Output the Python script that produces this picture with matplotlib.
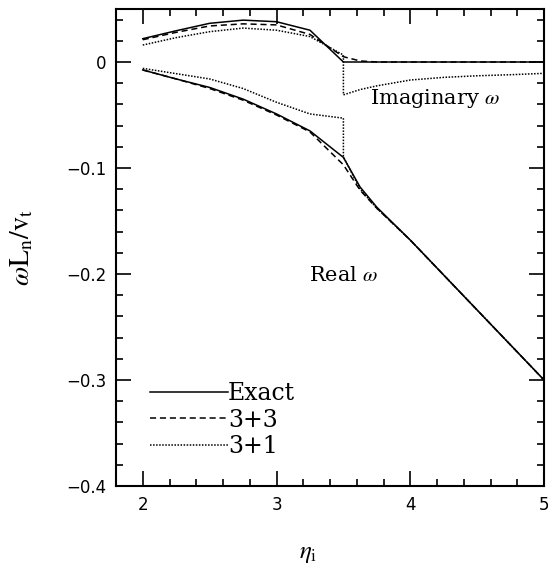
import matplotlib
matplotlib.use("Agg")
import matplotlib.pyplot as plt
from matplotlib.ticker import MultipleLocator

plt.rcParams['mathtext.fontset'] = 'stix'

# eta_i grid for the exact and 3+3 solutions
eta = [2.0, 2.25, 2.5, 2.75, 3.0, 3.25, 3.5, 3.625, 3.75, 4.0, 4.25, 4.5, 4.75, 5.0]
exact_im = [0.022, 0.0295, 0.0365, 0.0395, 0.038, 0.0300, 0.0, 0.0, 0.0, 0.0, 0.0, 0.0, 0.0, 0.0]
exact_re = [-0.0075, -0.016, -0.024, -0.035, -0.049, -0.065, -0.090, -0.118, -0.137,
            -0.168, -0.201, -0.234, -0.267, -0.300]
m33_im = [0.021, 0.028, 0.034, 0.036, 0.035, 0.026, 0.005, 0.001, 0.0, 0.0, 0.0, 0.0, 0.0, 0.0]
m33_re = [-0.0075, -0.016, -0.025, -0.036, -0.050, -0.066, -0.097, -0.121, -0.138,
          -0.168, -0.201, -0.234, -0.267, -0.300]

# 3+1 jumps to another root at eta_i = 3.5
eta31 = [2.0, 2.25, 2.5, 2.75, 3.0, 3.25, 3.5, 3.5, 3.625, 3.75, 4.0, 4.25, 4.5, 4.75, 5.0]
m31_im = [0.016, 0.023, 0.0286, 0.032, 0.030, 0.024, 0.0066, -0.031, -0.026, -0.0225,
          -0.017, -0.0145, -0.013, -0.012, -0.0107]
m31_re = [-0.006, -0.011, -0.016, -0.025, -0.038, -0.049, -0.053, -0.0895, -0.120, -0.138,
          -0.168, -0.201, -0.234, -0.267, -0.300]

fig = plt.figure(figsize=(5.57, 5.7), dpi=100)
ax = fig.add_axes([0.2083, 0.1474, 0.7684, 0.8368])

lw = 1.1
l1, = ax.plot(eta, exact_im, 'k-', lw=lw)
ax.plot(eta, exact_re, 'k-', lw=lw)
l2, = ax.plot(eta, m33_im, 'k--', lw=lw, dashes=(4, 2.5))
ax.plot(eta, m33_re, 'k--', lw=lw, dashes=(4, 2.5))
l3, = ax.plot(eta31, m31_im, 'k:', lw=lw, dashes=(1, 1))
ax.plot(eta31, m31_re, 'k:', lw=lw, dashes=(1, 1))

ax.set_xlim(1.8, 5.0)
ax.set_ylim(-0.4, 0.05)
ax.xaxis.set_major_locator(MultipleLocator(1))
ax.xaxis.set_minor_locator(MultipleLocator(0.2))
ax.yaxis.set_major_locator(MultipleLocator(0.1))
ax.yaxis.set_minor_locator(MultipleLocator(0.02))
ax.set_xticks([2, 3, 4, 5])
ax.set_yticks([-0.4, -0.3, -0.2, -0.1, 0])
ax.set_yticklabels(['\u22120.4', '\u22120.3', '\u22120.2', '\u22120.1', '0'])
ax.tick_params(which='both', direction='in', top=True, right=True, labelsize=12, width=1.2)
ax.tick_params(which='major', length=11, pad=7)
ax.tick_params(which='minor', length=5)
for s in ax.spines.values():
    s.set_linewidth(1.5)

ax.text(4.19, -0.034, r'Imaginary $\omega$', ha='center', va='center',
        fontsize=15, family='DejaVu Serif')
ax.text(3.50, -0.201, r'Real $\omega$', ha='center', va='center',
        fontsize=15, family='DejaVu Serif')

ax.set_xlabel(r'$\eta_\mathrm{i}$', fontsize=18)
ax.xaxis.set_label_coords(0.45, -0.115)
ax.set_ylabel(r'$\omega\mathrm{L_n/v_t}$', fontsize=20)
ax.yaxis.set_label_coords(-0.19, 0.5)

ax.legend([l1, l2, l3], ['Exact', '3+3', '3+1'], loc='upper left',
          bbox_to_anchor=(0.079, 0.218), frameon=False, handlelength=3.3,
          handletextpad=0.0, labelspacing=0.15, borderpad=0, borderaxespad=0,
          prop={'family': 'DejaVu Serif', 'size': 17})

fig.savefig('out.png', dpi=100)
